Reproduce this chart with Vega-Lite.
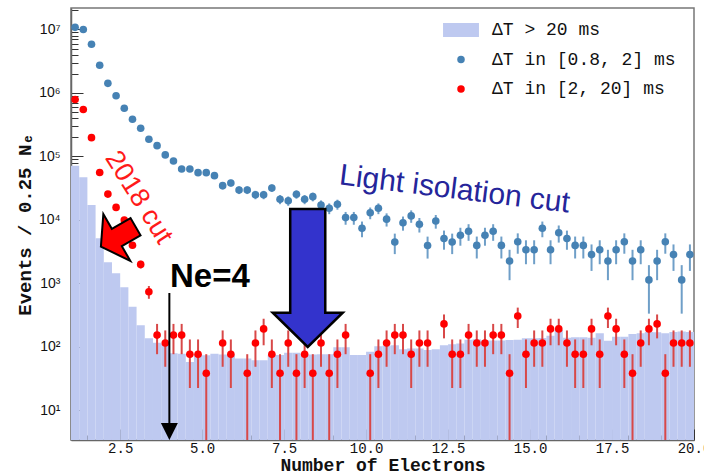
{
  "$schema": "https://vega.github.io/schema/vega-lite/v6.json",
  "width": 623,
  "height": 432,
  "autosize": {"type": "none"},
  "padding": {"left": 71, "top": 8, "right": 10, "bottom": 36},
  "background": "white",
  "config": {"view": {"stroke": "#777", "strokeWidth": 1.5}, "font": "Liberation Sans"},
  "datasets": {
    "hist": [
      {"x":1,"x2":1.25,"y":71600,"s":"A"},{"x":1.25,"x2":1.5,"y":47000,"s":"A"},{"x":1.5,"x2":1.75,"y":17200,"s":"A"},{"x":1.75,"x2":2,"y":5150,"s":"A"},
      {"x":2,"x2":2.25,"y":2160,"s":"A"},{"x":2.25,"x2":2.5,"y":1450,"s":"A"},{"x":2.5,"x2":2.75,"y":870,"s":"A"},{"x":2.75,"x2":3,"y":431,"s":"A"},
      {"x":3,"x2":3.25,"y":219,"s":"A"},{"x":3.25,"x2":3.5,"y":137,"s":"A"},{"x":3.5,"x2":3.75,"y":117,"s":"A"},{"x":3.75,"x2":4,"y":110,"s":"A"},
      {"x":4,"x2":4.25,"y":80,"s":"A"},{"x":4.25,"x2":4.5,"y":78,"s":"A"},{"x":4.5,"x2":4.75,"y":58,"s":"A"},{"x":4.75,"x2":5,"y":76,"s":"A"},
      {"x":5,"x2":5.25,"y":74,"s":"A"},{"x":5.25,"x2":5.5,"y":78,"s":"A"},{"x":5.5,"x2":5.75,"y":76,"s":"A"},{"x":5.75,"x2":6,"y":74,"s":"A"},
      {"x":6,"x2":6.25,"y":66,"s":"A"},{"x":6.25,"x2":6.5,"y":66,"s":"A"},{"x":6.5,"x2":6.75,"y":62,"s":"A"},{"x":6.75,"x2":7,"y":62,"s":"A"},
      {"x":7,"x2":7.25,"y":75,"s":"A"},{"x":7.25,"x2":7.5,"y":75,"s":"A"},{"x":7.5,"x2":7.75,"y":81,"s":"A"},{"x":7.75,"x2":8,"y":81,"s":"A"},
      {"x":8,"x2":8.25,"y":75,"s":"A"},{"x":8.25,"x2":8.5,"y":76,"s":"A"},{"x":8.5,"x2":8.75,"y":77,"s":"A"},{"x":8.75,"x2":9,"y":77,"s":"A"},
      {"x":9,"x2":9.25,"y":99,"s":"A"},{"x":9.25,"x2":9.5,"y":99,"s":"A"},{"x":9.5,"x2":9.75,"y":75,"s":"A"},{"x":9.75,"x2":10,"y":75,"s":"A"},
      {"x":10,"x2":10.25,"y":84,"s":"A"},{"x":10.25,"x2":10.5,"y":103,"s":"A"},{"x":10.5,"x2":10.75,"y":105,"s":"A"},{"x":10.75,"x2":11,"y":107,"s":"A"},
      {"x":11,"x2":11.25,"y":92,"s":"A"},{"x":11.25,"x2":11.5,"y":95,"s":"A"},{"x":11.5,"x2":11.75,"y":95,"s":"A"},{"x":11.75,"x2":12,"y":90,"s":"A"},
      {"x":12,"x2":12.25,"y":92,"s":"A"},{"x":12.25,"x2":12.5,"y":107,"s":"A"},{"x":12.5,"x2":12.75,"y":110,"s":"A"},{"x":12.75,"x2":13,"y":114,"s":"A"},
      {"x":13,"x2":13.25,"y":130,"s":"A"},{"x":13.25,"x2":13.5,"y":132,"s":"A"},{"x":13.5,"x2":13.75,"y":128,"s":"A"},{"x":13.75,"x2":14,"y":126,"s":"A"},
      {"x":14,"x2":14.25,"y":126,"s":"A"},{"x":14.25,"x2":14.5,"y":129,"s":"A"},{"x":14.5,"x2":14.75,"y":130,"s":"A"},{"x":14.75,"x2":15,"y":137,"s":"A"},
      {"x":15,"x2":15.25,"y":137,"s":"A"},{"x":15.25,"x2":15.5,"y":138,"s":"A"},{"x":15.5,"x2":15.75,"y":150,"s":"A"},{"x":15.75,"x2":16,"y":185,"s":"A"},
      {"x":16,"x2":16.25,"y":140,"s":"A"},{"x":16.25,"x2":16.5,"y":142,"s":"A"},{"x":16.5,"x2":16.75,"y":142,"s":"A"},{"x":16.75,"x2":17,"y":140,"s":"A"},
      {"x":17,"x2":17.25,"y":164,"s":"A"},{"x":17.25,"x2":17.5,"y":125,"s":"A"},{"x":17.5,"x2":17.75,"y":145,"s":"A"},{"x":17.75,"x2":18,"y":145,"s":"A"},
      {"x":18,"x2":18.25,"y":160,"s":"A"},{"x":18.25,"x2":18.5,"y":165,"s":"A"},{"x":18.5,"x2":18.75,"y":172,"s":"A"},{"x":18.75,"x2":19,"y":170,"s":"A"},
      {"x":19,"x2":19.25,"y":165,"s":"A"},{"x":19.25,"x2":19.5,"y":172,"s":"A"},{"x":19.5,"x2":19.75,"y":175,"s":"A"},{"x":19.75,"x2":20,"y":172,"s":"A"}
    ],
    "pts": [
      {"s":"B","x":1.125,"y":10800000,"lo":10721700,"hi":10878300},
      {"s":"B","x":1.375,"y":10000000,"lo":9924600,"hi":10075400},
      {"s":"B","x":1.625,"y":5850000,"lo":5792400,"hi":5907600},
      {"s":"B","x":1.875,"y":2730000,"lo":2690600,"hi":2769400},
      {"s":"B","x":2.125,"y":1420000,"lo":1391600,"hi":1448400},
      {"s":"B","x":2.375,"y":906000,"lo":883300,"hi":928700},
      {"s":"B","x":2.625,"y":574000,"lo":555940,"hi":592060},
      {"s":"B","x":2.875,"y":385000,"lo":370210,"hi":399790},
      {"s":"B","x":3.125,"y":278000,"lo":265430,"hi":290570},
      {"s":"B","x":3.375,"y":187000,"lo":176690,"hi":197310},
      {"s":"B","x":3.625,"y":148000,"lo":138830,"hi":157170},
      {"s":"B","x":3.875,"y":106000,"lo":98240,"hi":113760},
      {"s":"B","x":4.125,"y":85000,"lo":78050,"hi":91950},
      {"s":"B","x":4.375,"y":63600,"lo":57590,"hi":69610},
      {"s":"B","x":4.625,"y":63600,"lo":57590,"hi":69610},
      {"s":"B","x":4.875,"y":55600,"lo":49980,"hi":61220},
      {"s":"B","x":5.125,"y":55600,"lo":49980,"hi":61220},
      {"s":"B","x":5.375,"y":49900,"lo":44576,"hi":55224},
      {"s":"B","x":5.625,"y":34700,"lo":30260,"hi":39140},
      {"s":"B","x":5.875,"y":38300,"lo":33636,"hi":42964},
      {"s":"B","x":6.125,"y":29700,"lo":25593,"hi":33807},
      {"s":"B","x":6.375,"y":29700,"lo":25593,"hi":33807},
      {"s":"B","x":6.625,"y":25000,"lo":21232,"hi":28768},
      {"s":"B","x":6.875,"y":25000,"lo":21232,"hi":28768},
      {"s":"B","x":7.125,"y":31900,"lo":27643,"hi":36157},
      {"s":"B","x":7.375,"y":21200,"lo":17730,"hi":24670},
      {"s":"B","x":7.625,"y":20100,"lo":16721,"hi":23479},
      {"s":"B","x":7.875,"y":25400,"lo":21602,"hi":29198},
      {"s":"B","x":8.125,"y":21200,"lo":17730,"hi":24670},
      {"s":"B","x":8.375,"y":23300,"lo":19662,"hi":26938},
      {"s":"B","x":8.625,"y":17200,"lo":14074,"hi":20326},
      {"s":"B","x":8.875,"y":15300,"lo":12352,"hi":18248},
      {"s":"B","x":9.125,"y":17700,"lo":14529,"hi":20871},
      {"s":"B","x":9.375,"y":10900,"lo":8412,"hi":13388},
      {"s":"B","x":9.625,"y":10900,"lo":8412,"hi":13388},
      {"s":"B","x":9.875,"y":7400,"lo":5350,"hi":9450},
      {"s":"B","x":10.125,"y":13000,"lo":10283,"hi":15717},
      {"s":"B","x":10.375,"y":15300,"lo":12352,"hi":18248},
      {"s":"B","x":10.625,"y":10300,"lo":7881,"hi":12719},
      {"s":"B","x":10.875,"y":4500,"lo":2901,"hi":6099},
      {"s":"B","x":11.125,"y":9060,"lo":6791,"hi":11329},
      {"s":"B","x":11.375,"y":11600,"lo":9033,"hi":14167},
      {"s":"B","x":11.625,"y":8550,"lo":6346,"hi":10754},
      {"s":"B","x":11.875,"y":3970,"lo":2468,"hi":5472},
      {"s":"B","x":12.125,"y":9640,"lo":7300,"hi":11980},
      {"s":"B","x":12.375,"y":5110,"lo":3406,"hi":6814},
      {"s":"B","x":12.625,"y":4500,"lo":2901,"hi":6099},
      {"s":"B","x":12.875,"y":5740,"lo":3934,"hi":7546},
      {"s":"B","x":13.125,"y":6640,"lo":4698,"hi":8582},
      {"s":"B","x":13.375,"y":3980,"lo":2476,"hi":5484},
      {"s":"B","x":13.625,"y":5740,"lo":3934,"hi":7546},
      {"s":"B","x":13.875,"y":6640,"lo":4698,"hi":8582},
      {"s":"B","x":14.125,"y":3980,"lo":2476,"hi":5484},
      {"s":"B","x":14.375,"y":2260,"lo":1127,"hi":3393},
      {"s":"B","x":14.625,"y":4550,"lo":2942,"hi":6158},
      {"s":"B","x":14.875,"y":3400,"lo":2010,"hi":4790},
      {"s":"B","x":15.125,"y":3400,"lo":2010,"hi":4790},
      {"s":"B","x":15.375,"y":7400,"lo":5350,"hi":9450},
      {"s":"B","x":15.625,"y":3400,"lo":2010,"hi":4790},
      {"s":"B","x":15.875,"y":6300,"lo":4408,"hi":8192},
      {"s":"B","x":16.125,"y":5100,"lo":3398,"hi":6802},
      {"s":"B","x":16.375,"y":3980,"lo":2476,"hi":5484},
      {"s":"B","x":16.625,"y":3980,"lo":2476,"hi":5484},
      {"s":"B","x":16.875,"y":2850,"lo":1578,"hi":4122},
      {"s":"B","x":17.125,"y":3400,"lo":2010,"hi":4790},
      {"s":"B","x":17.375,"y":2260,"lo":1127,"hi":3393},
      {"s":"B","x":17.625,"y":3400,"lo":2010,"hi":4790},
      {"s":"B","x":17.875,"y":4550,"lo":2942,"hi":6158},
      {"s":"B","x":18.125,"y":2260,"lo":1127,"hi":3393},
      {"s":"B","x":18.375,"y":3400,"lo":2010,"hi":4790},
      {"s":"B","x":18.625,"y":1140,"lo":335,"hi":1945},
      {"s":"B","x":18.875,"y":2260,"lo":1127,"hi":3393},
      {"s":"B","x":19.125,"y":4550,"lo":2942,"hi":6158},
      {"s":"B","x":19.375,"y":2850,"lo":1578,"hi":4122},
      {"s":"B","x":19.625,"y":1140,"lo":335,"hi":1945},
      {"s":"B","x":19.875,"y":2850,"lo":1578,"hi":4122},
      {"s":"C","x":1.125,"y":790000,"lo":784485,"hi":795515},
      {"s":"C","x":1.375,"y":550000,"lo":545398,"hi":554602},
      {"s":"C","x":1.625,"y":198000,"lo":195239,"hi":200761},
      {"s":"C","x":1.875,"y":56000,"lo":54532,"hi":57468},
      {"s":"C","x":2.125,"y":25600,"lo":24607,"hi":26593},
      {"s":"C","x":2.375,"y":15800,"lo":15020,"hi":16580},
      {"s":"C","x":2.625,"y":10000,"lo":9380,"hi":10620},
      {"s":"C","x":2.875,"y":4000,"lo":3608,"hi":4392},
      {"s":"C","x":3.125,"y":2000,"lo":1723,"hi":2277},
      {"s":"C","x":3.375,"y":743,"lo":574,"hi":912},
      {"s":"C","x":3.625,"y":154,"lo":77,"hi":231},
      {"s":"C","x":3.875,"y":115.5,"lo":48.8,"hi":182.2},
      {"s":"C","x":4.125,"y":154,"lo":77,"hi":231},
      {"s":"C","x":4.375,"y":154,"lo":77,"hi":231},
      {"s":"C","x":4.625,"y":77,"lo":22.6,"hi":131.4},
      {"s":"C","x":4.875,"y":77,"lo":22.6,"hi":131.4},
      {"s":"C","x":5.125,"y":38.5,"lo":1,"hi":77},
      {"s":"C","x":5.625,"y":115.5,"lo":48.8,"hi":182.2},
      {"s":"C","x":5.875,"y":77,"lo":22.6,"hi":131.4},
      {"s":"C","x":6.375,"y":38.5,"lo":1,"hi":77},
      {"s":"C","x":6.625,"y":115.5,"lo":48.8,"hi":182.2},
      {"s":"C","x":6.875,"y":192.5,"lo":106.4,"hi":278.6},
      {"s":"C","x":7.125,"y":77,"lo":22.6,"hi":131.4},
      {"s":"C","x":7.375,"y":38.5,"lo":1,"hi":77},
      {"s":"C","x":7.625,"y":115.5,"lo":48.8,"hi":182.2},
      {"s":"C","x":7.875,"y":38.5,"lo":1,"hi":77},
      {"s":"C","x":8.125,"y":77,"lo":22.6,"hi":131.4},
      {"s":"C","x":8.375,"y":38.5,"lo":1,"hi":77},
      {"s":"C","x":8.625,"y":115.5,"lo":48.8,"hi":182.2},
      {"s":"C","x":8.875,"y":38.5,"lo":1,"hi":77},
      {"s":"C","x":9.125,"y":77,"lo":22.6,"hi":131.4},
      {"s":"C","x":9.375,"y":154,"lo":77,"hi":231},
      {"s":"C","x":10.125,"y":38.5,"lo":1,"hi":77},
      {"s":"C","x":10.375,"y":77,"lo":22.6,"hi":131.4},
      {"s":"C","x":10.625,"y":115.5,"lo":48.8,"hi":182.2},
      {"s":"C","x":10.875,"y":154,"lo":77,"hi":231},
      {"s":"C","x":11.125,"y":154,"lo":77,"hi":231},
      {"s":"C","x":11.375,"y":77,"lo":22.6,"hi":131.4},
      {"s":"C","x":11.625,"y":115.5,"lo":48.8,"hi":182.2},
      {"s":"C","x":11.875,"y":115.5,"lo":48.8,"hi":182.2},
      {"s":"C","x":12.375,"y":231,"lo":136.7,"hi":325.3},
      {"s":"C","x":12.625,"y":77,"lo":22.6,"hi":131.4},
      {"s":"C","x":12.875,"y":77,"lo":22.6,"hi":131.4},
      {"s":"C","x":13.125,"y":154,"lo":77,"hi":231},
      {"s":"C","x":13.375,"y":115.5,"lo":48.8,"hi":182.2},
      {"s":"C","x":13.625,"y":115.5,"lo":48.8,"hi":182.2},
      {"s":"C","x":13.875,"y":154,"lo":77,"hi":231},
      {"s":"C","x":14.125,"y":154,"lo":77,"hi":231},
      {"s":"C","x":14.375,"y":38.5,"lo":1,"hi":77},
      {"s":"C","x":14.625,"y":308,"lo":199.1,"hi":416.9},
      {"s":"C","x":14.875,"y":77,"lo":22.6,"hi":131.4},
      {"s":"C","x":15.125,"y":115.5,"lo":48.8,"hi":182.2},
      {"s":"C","x":15.375,"y":115.5,"lo":48.8,"hi":182.2},
      {"s":"C","x":15.625,"y":192.5,"lo":106.4,"hi":278.6},
      {"s":"C","x":15.875,"y":192.5,"lo":106.4,"hi":278.6},
      {"s":"C","x":16.125,"y":115.5,"lo":48.8,"hi":182.2},
      {"s":"C","x":16.375,"y":77,"lo":22.6,"hi":131.4},
      {"s":"C","x":16.625,"y":77,"lo":22.6,"hi":131.4},
      {"s":"C","x":16.875,"y":192.5,"lo":106.4,"hi":278.6},
      {"s":"C","x":17.125,"y":77,"lo":22.6,"hi":131.4},
      {"s":"C","x":17.375,"y":308,"lo":199.1,"hi":416.9},
      {"s":"C","x":17.625,"y":192.5,"lo":106.4,"hi":278.6},
      {"s":"C","x":17.875,"y":77,"lo":22.6,"hi":131.4},
      {"s":"C","x":18.125,"y":38.5,"lo":1,"hi":77},
      {"s":"C","x":18.375,"y":115.5,"lo":48.8,"hi":182.2},
      {"s":"C","x":18.625,"y":192.5,"lo":106.4,"hi":278.6},
      {"s":"C","x":18.875,"y":231,"lo":136.7,"hi":325.3},
      {"s":"C","x":19.125,"y":38.5,"lo":1,"hi":77},
      {"s":"C","x":19.375,"y":115.5,"lo":48.8,"hi":182.2},
      {"s":"C","x":19.625,"y":115.5,"lo":48.8,"hi":182.2},
      {"s":"C","x":19.875,"y":115.5,"lo":48.8,"hi":182.2}
    ]
  },
  "layer": [
    {
      "data": {"name": "hist"},
      "mark": {"type": "bar", "clip": true},
      "encoding": {
        "x": {
          "field": "x", "type": "quantitative",
          "scale": {"domain": [1, 20], "nice": false, "zero": false},
          "axis": {
            "title": "Number of Electrons",
            "titleFont": "Liberation Mono", "titleFontSize": 18, "titleFontWeight": "bold", "titleColor": "#111", "titlePadding": 1,
            "values": [1.5,2,2.5,3,3.5,4,4.5,5,5.5,6,6.5,7,7.5,8,8.5,9,9.5,10,10.5,11,11.5,12,12.5,13,13.5,14,14.5,15,15.5,16,16.5,17,17.5,18,18.5,19,19.5,20],
            "tickCount": 200,
            "labelExpr": "datum.value % 2.5 == 0 ? format(datum.value, '.1f') : ''",
            "labelFont": "Liberation Mono", "labelColor": "#111", "labelPadding": 12,
            "labelFontSize": {"condition": {"test": "datum.value % 2.5 == 0", "value": 14}, "value": 0},
            "labelOverlap": false, "labelFlush": false, "labelSeparation": 0,
            "tickSize": {"condition": {"test": "datum.value % 2.5 == 0", "value": -11}, "value": -5},
            "tickColor": "#333", "tickWidth": 1,
            "domainColor": "#666", "domainWidth": 1.5, "grid": false
          }
        },
        "x2": {"field": "x2"},
        "y": {
          "field": "y", "type": "quantitative",
          "scale": {"type": "log", "domain": [3.43, 21800000], "nice": false},
          "axis": {
            "title": "Events / 0.25 Nₑ",
            "titleFont": "Liberation Mono", "titleFontSize": 19, "titleFontWeight": "bold", "titleColor": "#111", "titlePadding": 4,
            "values": [4,5,6,7,8,9,10,20,30,40,50,60,70,80,90,100,200,300,400,500,600,700,800,900,1000,2000,3000,4000,5000,6000,7000,8000,9000,10000,20000,30000,40000,50000,60000,70000,80000,90000,100000,200000,300000,400000,500000,600000,700000,800000,900000,1000000,2000000,3000000,4000000,5000000,6000000,7000000,8000000,9000000,10000000,20000000],
            "tickCount": 200,
            "labelExpr": "datum.value == 10 ? '10¹' : datum.value == 100 ? '10²' : datum.value == 1000 ? '10³' : datum.value == 10000 ? '10⁴' : datum.value == 100000 ? '10⁵' : datum.value == 1000000 ? '10⁶' : datum.value == 10000000 ? '10⁷' : ''",
            "labelFont": "Liberation Sans", "labelFontSize": 14, "labelColor": "#111", "labelPadding": 23,
            "labelOverlap": false, "labelFlush": false,
            "tickSize": {"condition": {"test": "indexof([10,100,1000,10000,100000,1000000,10000000], datum.value) >= 0", "value": -12}, "value": -7},
            "tickColor": "#333", "tickWidth": 1,
            "domainColor": "#666", "domainWidth": 1.5, "grid": false
          }
        },
        "y2": {"datum": 1},
        "color": {
          "field": "s", "type": "nominal",
          "scale": {"domain": ["A", "B", "C"], "range": ["#bec9f0", "#4682b4", "#ff0000"]},
          "legend": {
            "title": null, "orient": "none", "legendX": 381, "legendY": 13,
            "labelExpr": "datum.value == 'A' ? 'ΔT > 20 ms' : datum.value == 'B' ? 'ΔT in [0.8, 2] ms' : 'ΔT in [2, 20] ms'",
            "labelFont": "Liberation Mono", "labelFontSize": 18, "labelColor": "#111", "labelLimit": 0,
            "labelOffset": 22, "symbolSize": 56, "rowPadding": 11.5, "symbolStrokeWidth": 0
          }
        }
      }
    },
    {
      "data": {"name": "pts"},
      "transform": [{"filter": "datum.s == 'B'"}],
      "mark": {"type": "rule", "color": "#6f9fc8", "strokeWidth": 2, "clip": true},
      "encoding": {
        "x": {"field": "x", "type": "quantitative"},
        "y": {"field": "lo", "type": "quantitative"},
        "y2": {"field": "hi"}
      }
    },
    {
      "data": {"name": "pts"},
      "transform": [{"filter": "datum.s == 'C'"}],
      "mark": {"type": "rule", "color": "#d84848", "strokeWidth": 2, "clip": true},
      "encoding": {
        "x": {"field": "x", "type": "quantitative"},
        "y": {"field": "lo", "type": "quantitative"},
        "y2": {"field": "hi"}
      }
    },
    {
      "data": {"name": "pts"},
      "mark": {"type": "point", "filled": true, "size": 58, "opacity": 1, "clip": true},
      "encoding": {
        "x": {"field": "x", "type": "quantitative"},
        "y": {"field": "y", "type": "quantitative"},
        "color": {"field": "s", "type": "nominal"},
        "shape": {
          "field": "s", "type": "nominal",
          "scale": {"domain": ["A", "B", "C"], "range": ["M-4.8,-1.9H4.8V1.9H-4.8Z", "circle", "circle"]}
        }
      }
    },
    {
      "data": {"values": [{"x": 4, "y": 708, "y2": 6}]},
      "mark": {"type": "rule", "color": "black", "strokeWidth": 2},
      "encoding": {
        "x": {"field": "x", "type": "quantitative"},
        "y": {"field": "y", "type": "quantitative"},
        "y2": {"field": "y2"}
      }
    },
    {
      "data": {"values": [{"x": 4, "y": 4.67}]},
      "mark": {"type": "point", "filled": true, "color": "black", "opacity": 1, "size": 289, "shape": "M-1,-1L1,-1L0,1Z"},
      "encoding": {
        "x": {"field": "x", "type": "quantitative"},
        "y": {"field": "y", "type": "quantitative"}
      }
    },
    {
      "data": {"values": [{"x": 4.02, "y": 891, "t": "Ne=4"}]},
      "mark": {"type": "text", "font": "Liberation Sans", "fontSize": 33, "fontWeight": "bold", "color": "black", "align": "left", "baseline": "alphabetic"},
      "encoding": {
        "x": {"field": "x", "type": "quantitative"},
        "y": {"field": "y", "type": "quantitative"},
        "text": {"field": "t"}
      }
    },
    {
      "data": {"values": [{"x": 2.44, "y": 5460}]},
      "mark": {"type": "point", "filled": true, "color": "#ff0000", "opacity": 1, "stroke": "black", "strokeWidth": 2, "size": 1600, "angle": 150, "shape": "M1,0L0.08,-1.35L0.08,-0.5L-1,-0.5L-1,0.5L0.08,0.5L0.08,1.35Z"},
      "encoding": {
        "x": {"field": "x", "type": "quantitative"},
        "y": {"field": "y", "type": "quantitative"}
      }
    },
    {
      "data": {"values": [{"x": 2.857, "y": 19400, "t": "2018 cut"}]},
      "mark": {"type": "text", "font": "Liberation Sans", "fontSize": 27, "color": "#ff1a1a", "align": "center", "baseline": "alphabetic", "angle": 58},
      "encoding": {
        "x": {"field": "x", "type": "quantitative"},
        "y": {"field": "y", "type": "quantitative"},
        "text": {"field": "t"}
      }
    },
    {
      "data": {"values": [{"x": 8.22, "y": 1222}]},
      "mark": {"type": "point", "filled": true, "color": "#3333cc", "opacity": 1, "stroke": "black", "strokeWidth": 2.5, "size": 19044, "shape": "M-0.254,-1L0.254,-1L0.254,0.503L0.507,0.503L0,1L-0.507,0.503L-0.254,0.503Z"},
      "encoding": {
        "x": {"field": "x", "type": "quantitative"},
        "y": {"field": "y", "type": "quantitative"}
      }
    },
    {
      "data": {"values": [{"x": 12.665, "y": 21800, "t": "Light isolation cut"}]},
      "mark": {"type": "text", "font": "Liberation Sans", "fontSize": 30, "color": "#25259a", "align": "center", "baseline": "alphabetic", "angle": 7},
      "encoding": {
        "x": {"field": "x", "type": "quantitative"},
        "y": {"field": "y", "type": "quantitative"},
        "text": {"field": "t"}
      }
    }
  ]
}
